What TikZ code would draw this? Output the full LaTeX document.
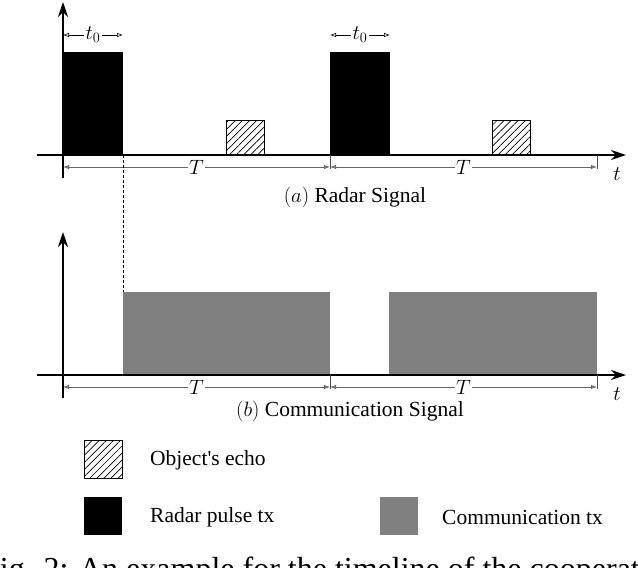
\documentclass[tikz,border=0pt]{standalone}
\usepackage{fontspec}
\setmainfont{Liberation Serif}
\usetikzlibrary{arrows.meta,patterns.meta}
\begin{document}
\begin{tikzpicture}[x=1pt,y=-1pt,font=\fontsize{21.5}{25}\selectfont,
  axis/.style={line width=1.4pt,-{Stealth[length=15pt,width=10pt]}},
  dimline/.style={draw=black!60,line width=1pt,{Latex[open,length=6pt,width=4.5pt]}-{Latex[open,length=6pt,width=4.5pt]}},
  tzero/.style={draw=black,line width=0.6pt,{Latex[open,length=6pt,width=4.5pt]}-{Latex[open,length=6pt,width=4.5pt]}},
  lbl/.style={fill=white,inner sep=2pt},
  tickln/.style={line width=0.8pt,black!70},
  pulse/.style={fill=black},
  echo/.style={draw=black,line width=0.8pt,pattern={Lines[angle=45,distance=5pt,line width=0.7pt]}},
  comm/.style={fill=black!50},
  legtext/.style={anchor=west,inner sep=0pt}]
\useasboundingbox (0,0) rectangle (638,568);
\clip (0,0) rectangle (638,568);

% ---------- (a) Radar signal ----------
\coordinate (ayb) at (63,178);
\coordinate (ayt) at (63,2);
\coordinate (axl) at (37,155);
\coordinate (axr) at (626,155);
\fill[pulse] (63,52) rectangle (123,155);
\fill[pulse] (330,52) rectangle (390,155);
\draw[echo] (226,120) rectangle (264,155);
\draw[echo] (492,120) rectangle (530,155);
\draw[axis] (ayb) -- (ayt);
\draw[axis] (axl) -- (axr);
\node (ta) at (617,174) {$t$};

% t0 markers
\coordinate (t0a1) at (63,35);  \coordinate (t0a2) at (123,35);
\coordinate (t0b1) at (330,35); \coordinate (t0b2) at (390,35);
\draw[tzero] (t0a1) -- node[lbl] (t0al) {$t_0$} (t0a2);
\draw[tzero] (t0b1) -- node[lbl] (t0bl) {$t_0$} (t0b2);

% T markers
\coordinate (Ta0) at (63,167); \coordinate (Ta1) at (330,167); \coordinate (Ta2) at (597,167);
\draw[tickln] (330,155) -- (330,169);
\draw[tickln] (597,155) -- (597,169);
\draw[dimline] (Ta0) -- node[lbl,inner sep=1pt] (Tal) {$T$} (Ta1);
\draw[dimline] (Ta1) -- node[lbl,inner sep=1pt] (Tbl) {$T$} (Ta2);

\node (capa) at (355,197) {$(a)$ Radar Signal};

% dashed guide
\coordinate (dg1) at (123,155);
\coordinate (dg2) at (123,292);
\draw[dashed,line width=0.7pt,dash pattern=on 3pt off 2pt] (dg1) -- (dg2);

% ---------- (b) Communication signal ----------
\coordinate (byb) at (63,398);
\coordinate (byt) at (63,232);
\coordinate (bxl) at (37,375);
\coordinate (bxr) at (626,375);
\fill[comm] (123,292) rectangle (330,375);
\fill[comm] (389,292) rectangle (597,375);
\draw[axis] (byb) -- (byt);
\draw[axis] (bxl) -- (bxr);
\node (tb) at (617,394) {$t$};

\coordinate (Tb0) at (63,387); \coordinate (Tb1) at (330,387); \coordinate (Tb2) at (597,387);
\draw[tickln] (330,375) -- (330,389);
\draw[tickln] (597,375) -- (597,389);
\draw[dimline] (Tb0) -- node[lbl,inner sep=1pt] (Tcl) {$T$} (Tb1);
\draw[dimline] (Tb1) -- node[lbl,inner sep=1pt] (Tdl) {$T$} (Tb2);

\node (capb) at (350,411) {$(b)$ Communication Signal};

% ---------- legend ----------
\draw[echo] (84,440) rectangle (122,478);
\node[legtext] (l1) at (150,460) {Object\textquotesingle s echo};
\fill[pulse] (84,497) rectangle (122,535);
\node[legtext] (l2) at (150,517) {Radar pulse tx};
\fill[comm] (380,497) rectangle (418,535);
\node[legtext] (l3) at (442,517) {Communication tx};

% ---------- cut caption (only its top shows) ----------
\node[anchor=base west,inner sep=0pt,font=\fontsize{32}{36}\selectfont] (fig) at (-18,579) {Fig. 2: An example for the timeline of the cooperative};
\end{tikzpicture}
\end{document}
